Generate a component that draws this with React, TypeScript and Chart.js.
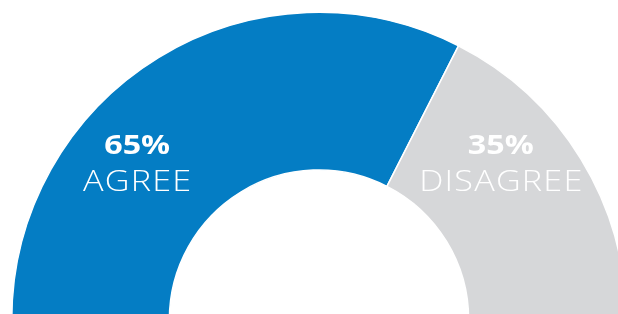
import React, { useEffect, useRef } from "react";
import { Chart, registerables } from "chart.js";

Chart.register(...registerables);

const categories = ["AGREE", "DISAGREE"];
const values = [65, 35];
const valueLabels = ["65%", "35%"];
const colors = ["#047DC4", "#D6D7D9"];

function drawWide(ctx: CanvasRenderingContext2D, text: string, x: number, y: number, sx: number) {
  ctx.save();
  ctx.translate(x, y);
  ctx.scale(sx, 1);
  ctx.fillText(text, 0, 0);
  ctx.restore();
}

const labelPlugin = {
  id: "arcLabels",
  afterDatasetsDraw(chart: any) {
    const ctx = chart.ctx as CanvasRenderingContext2D;
    const meta = chart.getDatasetMeta(0);
    const offset = (40.6 * Math.PI) / 180;
    meta.data.forEach((arc: any, i: number) => {
      const { x, y, innerRadius, outerRadius, startAngle, endAngle } = arc.getProps(
        ["x", "y", "innerRadius", "outerRadius", "startAngle", "endAngle"],
        true
      );
      const ang = i === 0 ? startAngle + offset : endAngle - offset;
      const r = innerRadius + 0.57 * (outerRadius - innerRadius);
      const cx = x + r * Math.cos(ang);
      const cy = y + r * Math.sin(ang);
      ctx.save();
      ctx.fillStyle = "#FFFFFF";
      ctx.textAlign = "center";
      ctx.textBaseline = "alphabetic";
      (ctx as any).letterSpacing = "0px";
      ctx.font = "bold 26px 'Open Sans', 'DejaVu Sans', sans-serif";
      drawWide(ctx, valueLabels[i], cx, cy - 10, 1.24);
      ctx.font = "300 28.5px 'Open Sans', 'DejaVu Sans', sans-serif";
      (ctx as any).letterSpacing = "1px";
      drawWide(ctx, categories[i], cx + 0.5, cy + 27.5, 1.2);
      ctx.restore();
    });
  },
};

export default function App() {
  const ref = useRef<HTMLCanvasElement>(null);
  useEffect(() => {
    document.body.style.margin = "0";
    const chart = new Chart(ref.current!, {
      type: "doughnut",
      data: {
        labels: categories,
        datasets: [
          {
            data: values,
            backgroundColor: colors,
            borderColor: "#FFFFFF",
            borderWidth: 1.5,
            hoverOffset: 0,
          },
        ],
      },
      options: {
        responsive: false,
        animation: false,
        rotation: -90,
        circumference: 180,
        cutout: "48.7%",
        layout: { padding: 0 },
        plugins: {
          legend: { display: false },
          tooltip: { enabled: false },
          title: { display: false },
        },
      },
      plugins: [labelPlugin],
    });
    return () => chart.destroy();
  }, []);
  return (
    <div
      style={{
        position: "fixed",
        left: 0,
        top: 0,
        width: 618,
        height: 314,
        overflow: "hidden",
        background: "#FFFFFF",
      }}
    >
      <div style={{ position: "absolute", left: 11, top: 11, width: 616, height: 310 }}>
        <canvas ref={ref} width={616} height={310} />
      </div>
    </div>
  );
}
